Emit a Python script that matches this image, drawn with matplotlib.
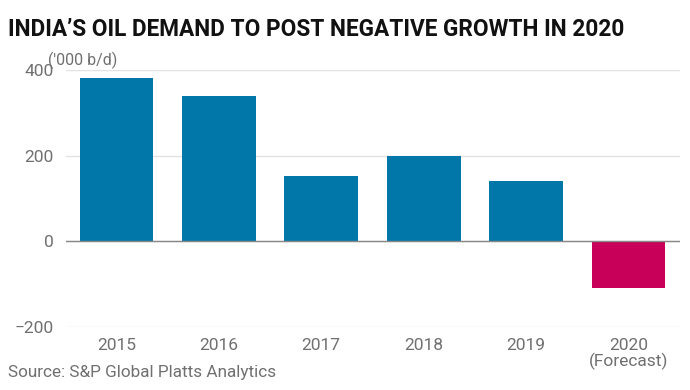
import matplotlib
matplotlib.use('Agg')
import matplotlib.pyplot as plt
import numpy as np

years = ['2015', '2016', '2017', '2018', '2019', '2020\n(Forecast)']
growth = [381, 339, 152, 199, 140, -110]  # '000 b/d
colors = ['#0077a8'] * 5 + ['#c8005a']
yticks = [-200, 0, 200, 400]

plt.rcParams['font.family'] = ['Roboto', 'DejaVu Sans']

fig = plt.figure(figsize=(6.9, 3.9), dpi=100)
ax = fig.add_axes([0.096, 0.1615, 0.889, 0.659])

x = np.arange(len(years))
ax.bar(x, growth, width=0.72, color=colors, zorder=3)

ax.set_xlim(-0.49, 5.5)
ax.set_ylim(-200, 400)
ax.set_yticks(yticks)
ax.set_xticks(x)
ax.set_xticklabels(years, linespacing=1.0)
ax.tick_params(length=0, labelsize=12.5, colors='#707070')
ax.tick_params(axis='x', pad=8)
ax.tick_params(axis='y', pad=9)
ax.grid(axis='y', color='#e2e2e2', linewidth=1, zorder=0)
ax.axhline(0, color='#888888', linewidth=1, zorder=4)
for s in ax.spines.values():
    s.set_visible(False)

fig.text(0.07, 0.845, "('000 b/d)", fontsize=11.5,
         color='#707070', va='center', ha='left')

fig.text(0.012, 0.925, "INDIA\u2019S OIL DEMAND TO POST NEGATIVE GROWTH IN 2020",
         fontsize=16.3, fontweight='bold', color='#111111', va='center')
fig.text(0.012, 0.045, "Source: S&P Global Platts Analytics", fontsize=12.3,
         color='#707070', va='center')

fig.savefig('out.png', dpi=100)
